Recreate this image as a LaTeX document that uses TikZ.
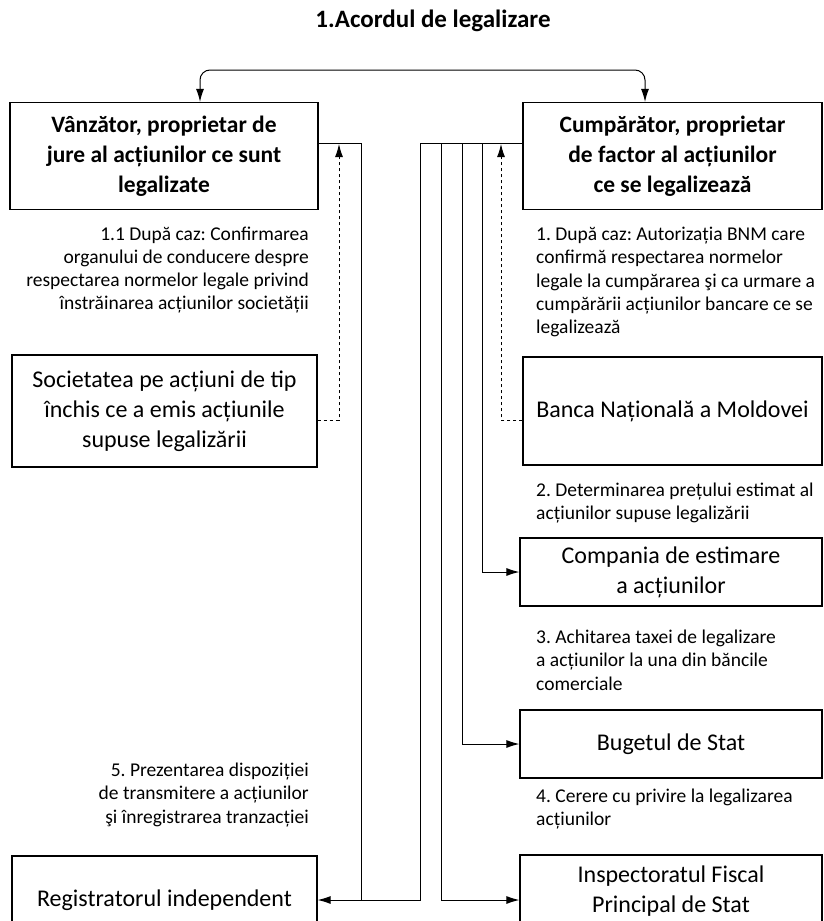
\documentclass[tikz,border=0pt]{standalone}
\usepackage{fontspec}
\setmainfont{Carlito}
\usetikzlibrary{arrows.meta}
\frenchspacing

\begin{document}
\begin{tikzpicture}[x=1pt,y=-1pt,
  box/.style={draw, line width=1.2pt, align=center, inner sep=0pt,
    font=\fontsize{24}{30}\selectfont},
  bold/.style={font=\fontsize{23.5}{30}\selectfont\bfseries},
  note/.style={inner sep=0pt, font=\fontsize{19.5}{23.3}\selectfont},
  link/.style={line width=1pt},
  arr/.style={link, -{Latex[length=13pt,width=8pt]}},
  dasharr/.style={arr, dash pattern=on 3.5pt off 2.5pt}]

\useasboundingbox (0,0) rectangle (824,921);

% boxes
\node[box, bold, minimum width=308, minimum height=107]
  (vanzator) at (164,156) {Vânzător, proprietar de\\jure al acțiunilor ce sunt\\legalizate};
\node[box, bold, minimum width=299, minimum height=107]
  (cumparator) at (672.5,156) {Cumpărător, proprietar\\de factor al acțiunilor\\ce se legalizează};
\node[box, minimum width=305, minimum height=112] (societatea) at (164.5,411)
  {Societatea pe acțiuni de tip\\închis ce a emis acțiunile\\supuse legalizării};
\node[box, minimum width=299, minimum height=108] (banca) at (672.5,411)
  {Banca Națională a Moldovei};
\node[box, minimum width=302, minimum height=68] (compania) at (671,572)
  {Compania de estimare\\a acțiunilor};
\node[box, minimum width=302, minimum height=68] (bugetul) at (671,744)
  {Bugetul de Stat};
\node[box, minimum width=302, minimum height=72] (inspectoratul) at (671,891)
  {Inspectoratul Fiscal\\Principal de Stat};
\node[box, minimum width=305, minimum height=88] (registratorul) at (164.5,900)
  {Registratorul independent};

% texts
\node[font=\fontsize{25}{30}\selectfont\bfseries] (acord) at (433,21) {1.Acordul de legalizare};
\node[note, anchor=east, align=right] (nota11) at (309,270)
  {1.1 După caz: Confirmarea\\organului de conducere despre\\respectarea normelor legale privind\\înstrăinarea acțiunilor societății};
\node[note, anchor=west, align=left] (nota1) at (536,282)
  {1. După caz: Autorizația BNM care\\confirmă respectarea normelor\\legale la cumpărarea şi ca urmare a\\cumpărării acțiunilor bancare ce se\\legalizează};
\node[note, anchor=west, align=left] (nota2) at (536,503)
  {2. Determinarea prețului estimat al\\acțiunilor supuse legalizării};
\node[note, anchor=west, align=left] (nota3) at (536,660)
  {3. Achitarea taxei de legalizare\\a acțiunilor la una din băncile\\comerciale};
\node[note, anchor=west, align=left] (nota4) at (536,809)
  {4. Cerere cu privire la legalizarea\\acțiunilor};
\node[note, anchor=east, align=right] (nota5) at (309,795)
  {5. Prezentarea dispoziției\\de transmitere a acțiunilor\\şi înregistrarea tranzacției};

% connectors
\coordinate (acL) at (200,70);
\coordinate (acR) at (645,70);
\coordinate (vL) at (361,143);
\coordinate (cL) at (420,143);
\coordinate (vD) at (339,144);
\coordinate (cD) at (501,144);

\draw[link, {Latex[length=13pt,width=8pt]}-{Latex[length=13pt,width=8pt]}, rounded corners=10pt]
  (vanzator.north -| acL) -- (acL) -- (acR) -- (cumparator.north -| acR);

\draw[arr] (vanzator.east |- vL) -- (vL) |- (registratorul.east);
\draw[link] (cumparator.west |- cL) -- (cL) |- (vL |- registratorul.east);
\draw[arr] (441,143) |- ([yshift=-9pt]inspectoratul.west);
\draw[arr] (462,143) |- (bugetul.west);
\draw[arr] (482,143) |- (compania.west);

\draw[dasharr] ([yshift=-9pt]societatea.east) -| (vD);
\draw[dasharr] ([yshift=-9pt]banca.west) -| (cD);

\end{tikzpicture}
\end{document}
